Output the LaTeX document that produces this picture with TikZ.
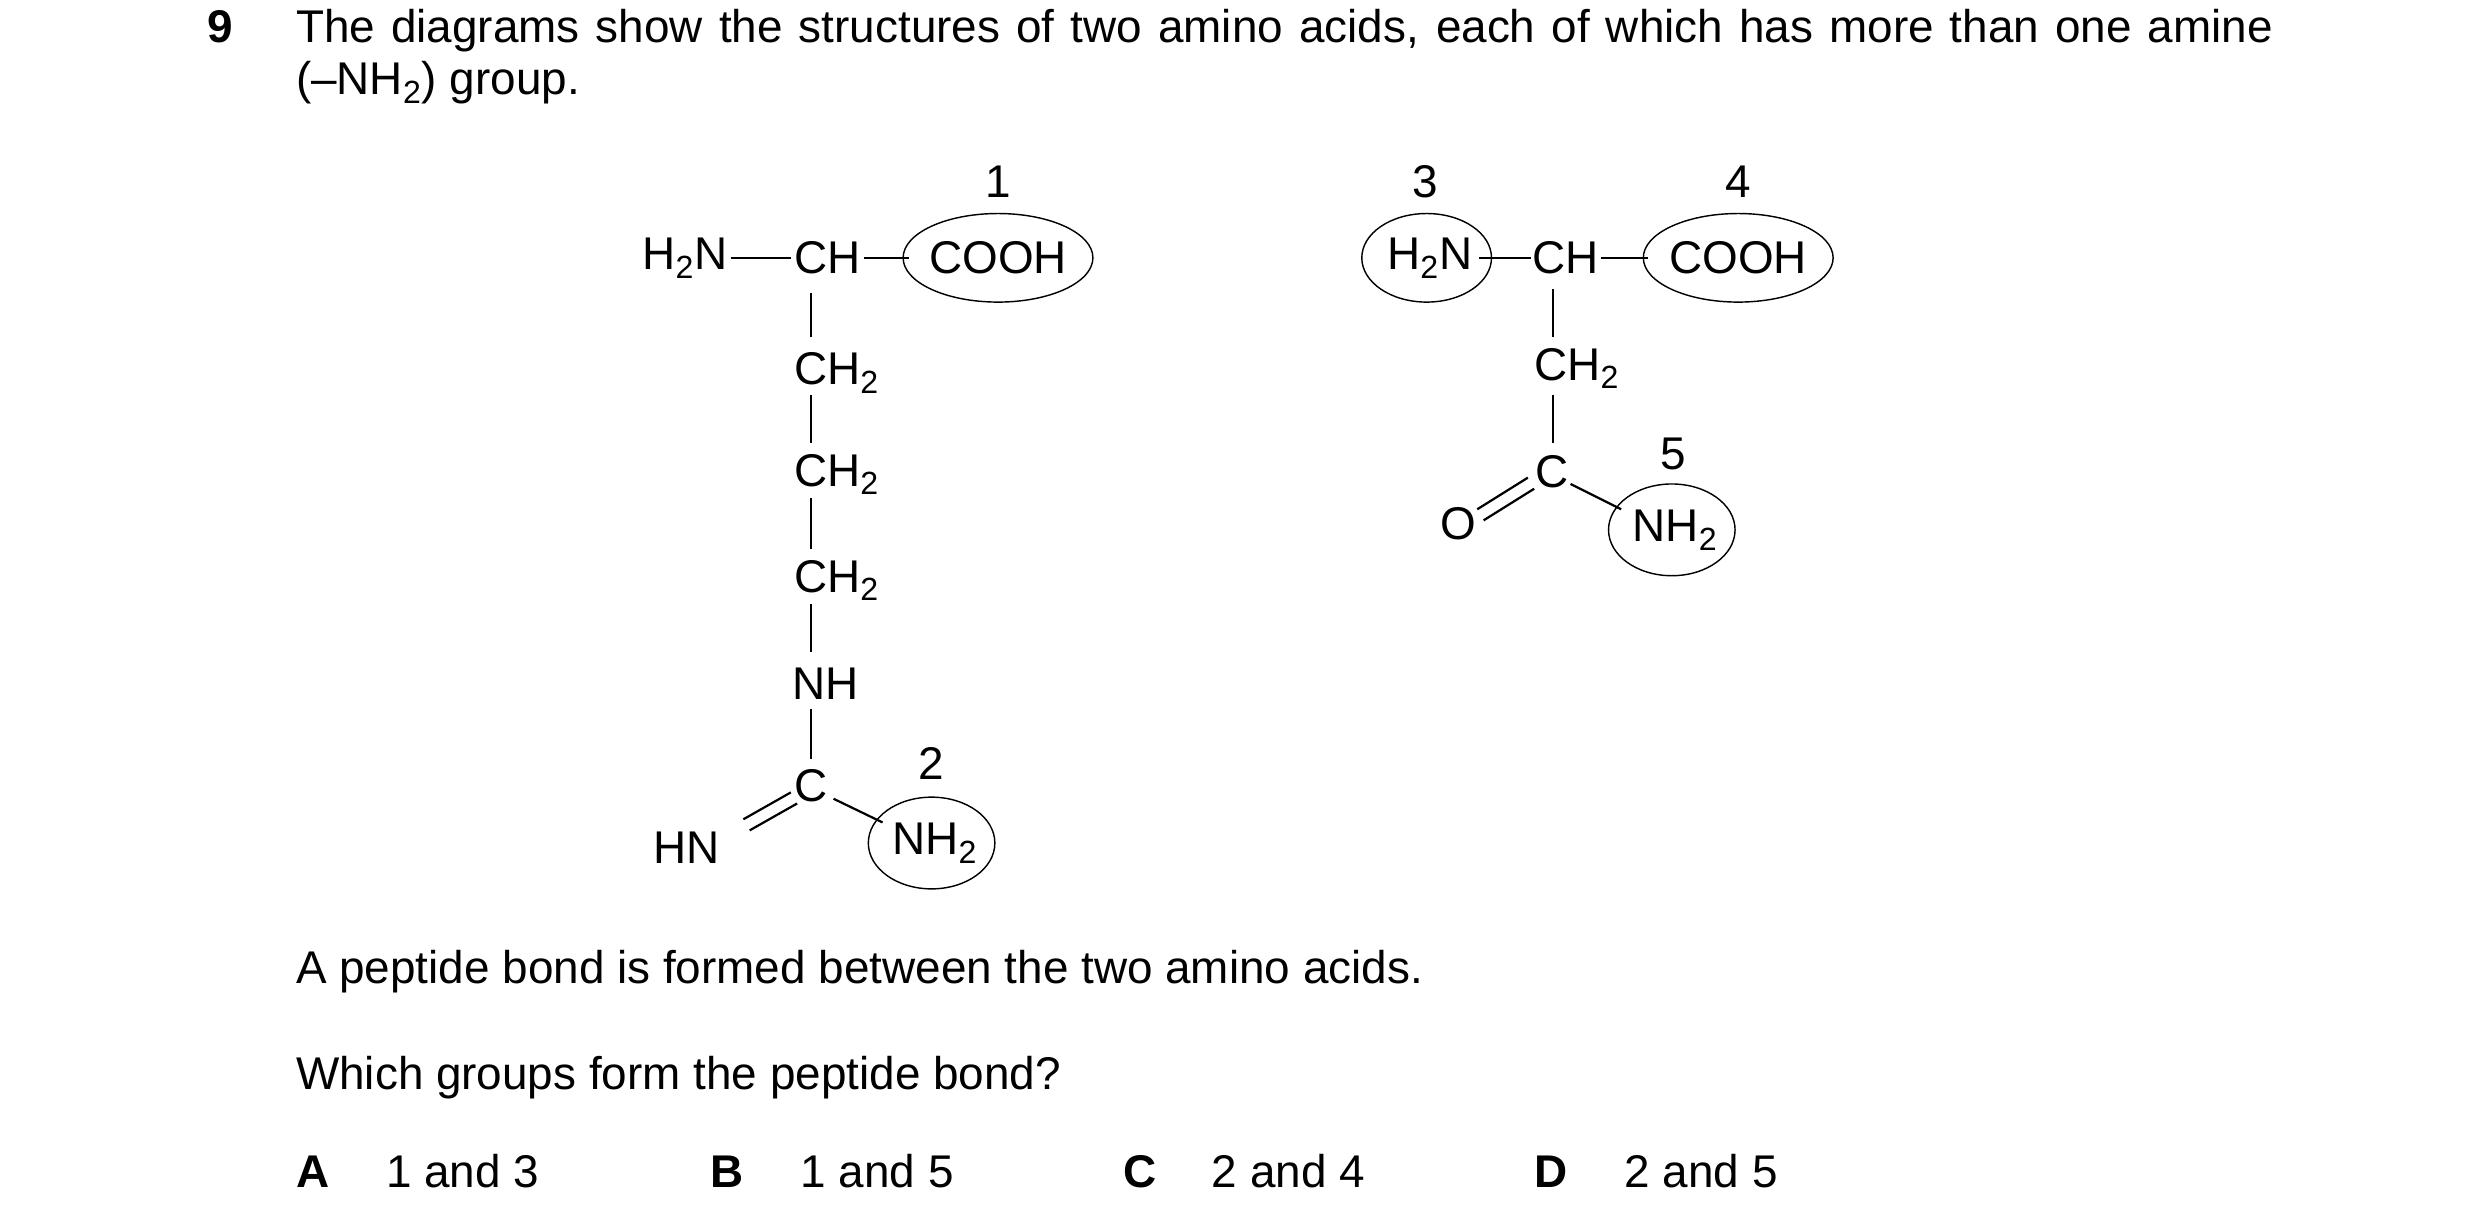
\documentclass[tikz,border=0pt]{standalone}
\usepackage{fontspec}
\setmainfont{Liberation Sans}
\newcommand{\mysub}[1]{\textsubscript{#1}}
\begin{document}
\begin{tikzpicture}[x=1pt,y=-1pt,
  every node/.style={font=\fontsize{29}{34}\selectfont,inner sep=0pt},
  grp/.style={draw,line width=0.9pt},
  bond/.style={line width=1.4pt}]
\useasboundingbox (0,0) rectangle (1568,778);
\node[anchor=base west,font=\fontsize{29}{34}\selectfont\bfseries] (q) at (131,27) {9};
\node[anchor=base west,text width=1250pt,align=justify,font=\fontsize{29}{33}\selectfont] (p) at (187,27) {The diagrams show the structures of two amino acids, each of which has more than one amine (--NH\mysub{2}) group.};
% left molecule
\node (a1) at (433,163) {H\mysub{2}N};
\node (a2) at (523,163) {CH};
\node (a3) at (631,163) {COOH};
\draw[grp] (631,163) ellipse (60 and 28);
\node (l1) at (631,115) {1};
\draw[bond] (462,163) -- (500,163) (546,163) -- (575,163);
\node (a4) at (529,236) {CH\mysub{2}};
\node (a5) at (529,300) {CH\mysub{2}};
\node (a6) at (529,367) {CH\mysub{2}};
\node (a7) at (522,432) {NH};
\node (a8) at (513,497) {C};
\node (a9) at (434,536) {HN};
\node (a10) at (591,533) {NH\mysub{2}};
\draw[grp] (589,533) ellipse (40 and 29);
\node (l2) at (589,483) {2};
\draw[bond] (513,185)--(513,213) (513,250)--(513,280) (513,315)--(513,347) (513,382)--(513,412) (513,448)--(513,480);
\draw[bond] (470,518)--(500,501) (474,525)--(504,508);
\draw[bond] (527,505)--(558,520);
% right molecule
\node (b1) at (904,163) {H\mysub{2}N};
\draw[grp] (902,163) ellipse (41 and 28);
\node (l3) at (901,115) {3};
\node (b2) at (990,163) {CH};
\node (b3) at (1099,163) {COOH};
\draw[grp] (1099,163) ellipse (60 and 28);
\node (l4) at (1099,115) {4};
\draw[bond] (935,163)--(968,163) (1012,163)--(1042,163);
\draw[bond] (982,183)--(982,213) (982,250)--(982,280);
\node (b4) at (997,233) {CH\mysub{2}};
\node (b5) at (981,298) {C};
\node (b6) at (922,331) {O};
\draw[bond] (934,322)--(966,302) (938,329)--(970,309);
\draw[bond] (993,306)--(1025,322);
\node (b7) at (1059,335) {NH\mysub{2}};
\draw[grp] (1057,335) ellipse (40 and 29);
\node (l5) at (1058,287) {5};
% bottom text
\node[anchor=base west] (s1) at (187,622) {A peptide bond is formed between the two amino acids.};
\node[anchor=base west] (s2) at (187,689) {Which groups form the peptide bond?};
\node[anchor=base west,font=\fontsize{29}{34}\selectfont\bfseries] (oA) at (187,751) {A};
\node[anchor=base west] (tA) at (244,751) {1 and 3};
\node[anchor=base west,font=\fontsize{29}{34}\selectfont\bfseries] (oB) at (449,751) {B};
\node[anchor=base west] (tB) at (506,751) {1 and 5};
\node[anchor=base west,font=\fontsize{29}{34}\selectfont\bfseries] (oC) at (710,751) {C};
\node[anchor=base west] (tC) at (766,751) {2 and 4};
\node[anchor=base west,font=\fontsize{29}{34}\selectfont\bfseries] (oD) at (970,751) {D};
\node[anchor=base west] (tD) at (1027,751) {2 and 5};
\end{tikzpicture}
\end{document}
